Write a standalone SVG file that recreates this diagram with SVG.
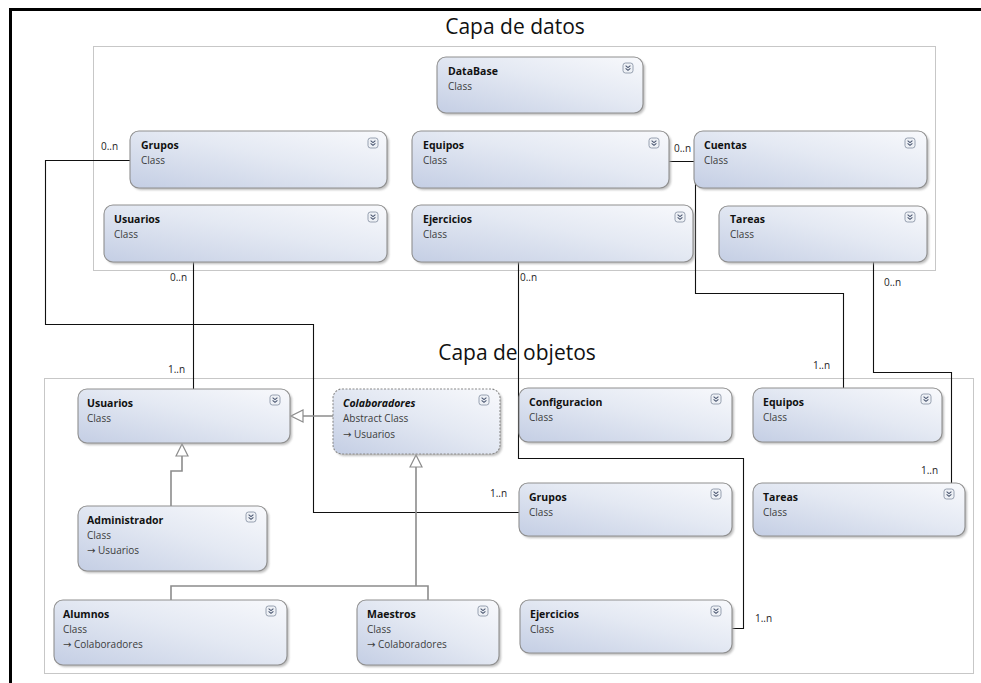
<svg xmlns="http://www.w3.org/2000/svg" xmlns:xlink="http://www.w3.org/1999/xlink" width="981" height="683" viewBox="0 0 981 683">
  <defs>
    <linearGradient id="boxFill" x1="0" y1="1" x2="1" y2="0">
      <stop offset="0" stop-color="#c4cee4"/>
      <stop offset="0.55" stop-color="#e4e9f3"/>
      <stop offset="1" stop-color="#f8f9fc"/>
    </linearGradient>
    <filter id="soft" x="-5%" y="-10%" width="110%" height="130%">
      <feGaussianBlur stdDeviation="1.2"/>
    </filter>
    <!-- collapse/expand toggle shown in each class header -->
    <g id="exp">
      <rect x="0" y="0" width="10" height="10" rx="2.5" fill="#eef1f6" stroke="#8d97a8" stroke-width="0.9"/>
      <path d="M2.6 2.6 L5 4.6 L7.4 2.6 M2.6 5.4 L5 7.4 L7.4 5.4" fill="none" stroke="#4a5670" stroke-width="1.1"/>
    </g>
    <marker id="gen" viewBox="0 0 14 14" refX="13" refY="7" markerWidth="14" markerHeight="14" markerUnits="userSpaceOnUse" orient="auto">
      <path d="M1 1 L13 7 L1 13 Z" fill="#ffffff" stroke="#8c8c8c" stroke-width="1.2"/>
    </marker>
  </defs>
  <style>
    .frame { fill: none; stroke: #000; stroke-width: 3; }
    .layer { fill: none; stroke: #8f8f8f; stroke-width: 1; stroke-dasharray: 1 1; }
    .title { font-family: "Open Sans", "Noto Sans", "Liberation Sans", sans-serif; font-size: 21px; fill: #111; }
    .shadow { fill: #a9a9a9; opacity: 0.75; filter: url(#soft); }
    .box { fill: url(#boxFill); stroke: #8f8f8f; stroke-width: 1.1; }
    .abstract { stroke-dasharray: 2 1.5; stroke: #8a8a8a; }
    .name { font-family: "Open Sans", "Noto Sans", "Liberation Sans", sans-serif; font-size: 10.5px; font-weight: bold; fill: #111; }
    .italic { font-style: italic; }
    .kind { font-family: "Open Sans", "Noto Sans", "Liberation Sans", sans-serif; font-size: 10px; fill: #3c3c3c; }
    .arr { font-family: "DejaVu Sans", sans-serif; font-size: 10px; }
    .assoc { fill: none; stroke: #111; stroke-width: 1.1; }
    .inherit { fill: none; stroke: #8c8c8c; stroke-width: 1.6; }
    .mult { font-family: "Open Sans", "Noto Sans", "Liberation Sans", sans-serif; font-size: 10px; fill: #222; }
  </style>

  <rect width="981" height="683" fill="#ffffff"/>
  <!-- outer frame: top and left edges -->
  <path class="frame" d="M10.5 683 V9.5 H981"/>

  <!-- layer containers -->
  <g id="capa-datos">
    <rect class="layer" x="93.5" y="46.5" width="842" height="224"/>
    <text class="title" x="515" y="34" text-anchor="middle">Capa de datos</text>
  </g>
  <g id="capa-objetos">
    <rect class="layer" x="44.5" y="378.5" width="929" height="295"/>
    <text class="title" x="517" y="360" text-anchor="middle">Capa de objetos</text>
  </g>

  <!-- connectors -->
  <g id="connectors">
    <path class="assoc" d="M130 160.5 H45.5 V324.5 H313.5 V512.5 H519"/>
    <path class="assoc" d="M193.5 262 V389"/>
    <path class="assoc" d="M518.5 262 V458.5 H743.5 V628.5 H732"/>
    <path class="assoc" d="M669 161.5 H695.5 V293.5 H843.5 V388"/>
    <path class="assoc" d="M873.5 262 V372.5 H951.5 V483"/>

    <path class="inherit" d="M333 416 H291" marker-end="url(#gen)"/>
    <path class="inherit" d="M171 506 V471 H182 V444" marker-end="url(#gen)"/>
    <path class="inherit" d="M171 600 V586 H428 V600 M416 586 V455" marker-end="url(#gen)"/>

    <text class="mult" x="101" y="150">0..n</text>
    <text class="mult" x="490" y="497">1..n</text>
    <text class="mult" x="170" y="281">0..n</text>
    <text class="mult" x="168" y="373">1..n</text>
    <text class="mult" x="520" y="281">0..n</text>
    <text class="mult" x="755" y="622">1..n</text>
    <text class="mult" x="674" y="152">0..n</text>
    <text class="mult" x="813" y="369">1..n</text>
    <text class="mult" x="884" y="286">0..n</text>
    <text class="mult" x="921" y="474">1..n</text>
  </g>

  <!-- data layer classes -->
  <g id="db-database">
    <rect class="shadow" x="439" y="59" width="206" height="56" rx="9"/>
    <rect class="box" x="437" y="57" width="206" height="56" rx="9"/>
    <text class="name" x="448" y="75">DataBase</text>
    <text class="kind" x="448" y="90">Class</text>
    <use xlink:href="#exp" x="623" y="63"/>
  </g>
  <g id="db-grupos">
    <rect class="shadow" x="132" y="133" width="257" height="57" rx="9"/>
    <rect class="box" x="130" y="131" width="257" height="57" rx="9"/>
    <text class="name" x="141" y="149">Grupos</text>
    <text class="kind" x="141" y="164">Class</text>
    <use xlink:href="#exp" x="368" y="138"/>
  </g>
  <g id="db-equipos">
    <rect class="shadow" x="414" y="133" width="257" height="57" rx="9"/>
    <rect class="box" x="412" y="131" width="257" height="57" rx="9"/>
    <text class="name" x="423" y="149">Equipos</text>
    <text class="kind" x="423" y="164">Class</text>
    <use xlink:href="#exp" x="649" y="138"/>
  </g>
  <g id="db-cuentas">
    <rect class="shadow" x="696" y="133" width="233" height="57" rx="9"/>
    <rect class="box" x="694" y="131" width="233" height="57" rx="9"/>
    <text class="name" x="704" y="149">Cuentas</text>
    <text class="kind" x="704" y="164">Class</text>
    <use xlink:href="#exp" x="905" y="138"/>
  </g>
  <g id="db-usuarios">
    <rect class="shadow" x="106" y="207" width="283" height="57" rx="9"/>
    <rect class="box" x="104" y="205" width="283" height="57" rx="9"/>
    <text class="name" x="114" y="223">Usuarios</text>
    <text class="kind" x="114" y="238">Class</text>
    <use xlink:href="#exp" x="368" y="212"/>
  </g>
  <g id="db-ejercicios">
    <rect class="shadow" x="414" y="207" width="281" height="57" rx="9"/>
    <rect class="box" x="412" y="205" width="281" height="57" rx="9"/>
    <text class="name" x="423" y="223">Ejercicios</text>
    <text class="kind" x="423" y="238">Class</text>
    <use xlink:href="#exp" x="675" y="212"/>
  </g>
  <g id="db-tareas">
    <rect class="shadow" x="721" y="208" width="208" height="56" rx="9"/>
    <rect class="box" x="719" y="206" width="208" height="56" rx="9"/>
    <text class="name" x="730" y="223">Tareas</text>
    <text class="kind" x="730" y="238">Class</text>
    <use xlink:href="#exp" x="905" y="212"/>
  </g>

  <!-- object layer classes -->
  <g id="ob-usuarios">
    <rect class="shadow" x="80" y="391" width="212" height="54" rx="9"/>
    <rect class="box" x="78" y="389" width="212" height="54" rx="9"/>
    <text class="name" x="87" y="407">Usuarios</text>
    <text class="kind" x="87" y="422">Class</text>
    <use xlink:href="#exp" x="270" y="395"/>
  </g>
  <g id="ob-colaboradores">
    <rect class="shadow" x="335" y="391" width="167" height="65" rx="9"/>
    <rect class="box abstract" x="333" y="389" width="167" height="65" rx="9"/>
    <text class="name italic" x="343" y="407">Colaboradores</text>
    <text class="kind" x="343" y="422">Abstract Class</text>
    <text class="kind" x="343" y="438"><tspan class="arr">→</tspan> Usuarios</text>
    <use xlink:href="#exp" x="479" y="395"/>
  </g>
  <g id="ob-configuracion">
    <rect class="shadow" x="521" y="390" width="213" height="54" rx="9"/>
    <rect class="box" x="519" y="388" width="213" height="54" rx="9"/>
    <text class="name" x="529" y="406">Configuracion</text>
    <text class="kind" x="529" y="421">Class</text>
    <use xlink:href="#exp" x="711" y="394"/>
  </g>
  <g id="ob-equipos">
    <rect class="shadow" x="755" y="390" width="189" height="54" rx="9"/>
    <rect class="box" x="753" y="388" width="189" height="54" rx="9"/>
    <text class="name" x="763" y="406">Equipos</text>
    <text class="kind" x="763" y="421">Class</text>
    <use xlink:href="#exp" x="921" y="394"/>
  </g>
  <g id="ob-administrador">
    <rect class="shadow" x="80" y="508" width="189" height="65" rx="9"/>
    <rect class="box" x="78" y="506" width="189" height="65" rx="9"/>
    <text class="name" x="87" y="524">Administrador</text>
    <text class="kind" x="87" y="539">Class</text>
    <text class="kind" x="87" y="554"><tspan class="arr">→</tspan> Usuarios</text>
    <use xlink:href="#exp" x="246" y="512"/>
  </g>
  <g id="ob-grupos">
    <rect class="shadow" x="521" y="485" width="213" height="53" rx="9"/>
    <rect class="box" x="519" y="483" width="213" height="53" rx="9"/>
    <text class="name" x="529" y="501">Grupos</text>
    <text class="kind" x="529" y="516">Class</text>
    <use xlink:href="#exp" x="711" y="489"/>
  </g>
  <g id="ob-tareas">
    <rect class="shadow" x="755" y="485" width="212" height="53" rx="9"/>
    <rect class="box" x="753" y="483" width="212" height="53" rx="9"/>
    <text class="name" x="763" y="501">Tareas</text>
    <text class="kind" x="763" y="516">Class</text>
    <use xlink:href="#exp" x="944" y="489"/>
  </g>
  <g id="ob-alumnos">
    <rect class="shadow" x="56" y="602" width="233" height="65" rx="9"/>
    <rect class="box" x="54" y="600" width="233" height="65" rx="9"/>
    <text class="name" x="63" y="618">Alumnos</text>
    <text class="kind" x="63" y="633">Class</text>
    <text class="kind" x="63" y="648"><tspan class="arr">→</tspan> Colaboradores</text>
    <use xlink:href="#exp" x="266" y="606"/>
  </g>
  <g id="ob-maestros">
    <rect class="shadow" x="359" y="602" width="142" height="65" rx="9"/>
    <rect class="box" x="357" y="600" width="142" height="65" rx="9"/>
    <text class="name" x="367" y="618">Maestros</text>
    <text class="kind" x="367" y="633">Class</text>
    <text class="kind" x="367" y="648"><tspan class="arr">→</tspan> Colaboradores</text>
    <use xlink:href="#exp" x="478" y="606"/>
  </g>
  <g id="ob-ejercicios">
    <rect class="shadow" x="522" y="602" width="212" height="53" rx="9"/>
    <rect class="box" x="520" y="600" width="212" height="53" rx="9"/>
    <text class="name" x="530" y="618">Ejercicios</text>
    <text class="kind" x="530" y="633">Class</text>
    <use xlink:href="#exp" x="711" y="606"/>
  </g>
</svg>
